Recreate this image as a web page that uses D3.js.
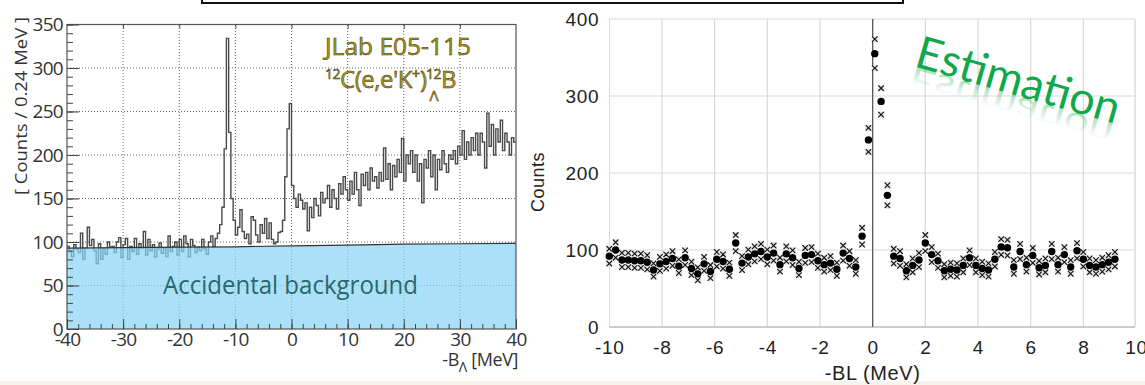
<!DOCTYPE html>
<html>
<head>
<meta charset="utf-8">
<script src="https://cdn.jsdelivr.net/npm/d3@7"></script>
<style>
  body { margin: 0; background: #ffffff; }
  svg { display: block; }
</style>
</head>
<body>
<script>
// left panel: E05-115 spectrum, 0.4 MeV bins starting at -40 MeV
var HIST_START = -40;
var BIN_W = 0.4;
var histCounts = [
  95, 90, 83, 97, 92, 88, 110, 80, 93, 117,
  96, 103, 90, 75, 98, 80, 92, 86, 100, 94,
  95, 88, 100, 105, 82, 97, 104, 80, 95, 89,
  104, 86, 98, 93, 112, 85, 103, 90, 97, 83,
  92, 99, 87, 93, 83, 107, 89, 95, 100, 85,
  103, 89, 107, 98, 83, 103, 96, 88, 94, 90,
  103, 92, 86, 100, 107, 95, 104, 110, 120, 140,
  207, 334, 226, 150, 125, 108, 117, 137, 112, 104,
  109, 98, 129, 125, 108, 100, 120, 110, 127, 104,
  122, 103, 98, 100, 111, 112, 125, 175, 230, 259,
  165, 150, 140, 155, 148, 138, 145, 113, 140, 128,
  150, 142, 130, 157, 145, 150, 165, 140, 160, 150,
  138, 167, 155, 175, 160, 148, 170, 155, 180, 160,
  142, 178, 165, 180, 160, 185, 170, 175, 162, 180,
  170, 208, 172, 190, 160, 188, 175, 195, 180, 219,
  170, 200, 190, 205, 180, 200, 170, 190, 145, 195,
  185, 205, 175, 200, 160, 195, 183, 205, 190, 180,
  200, 195, 205, 190, 210, 200, 228, 195, 215, 200,
  220, 205, 225, 200, 225, 215, 185, 248, 210, 235,
  200, 230, 215, 240, 205, 225, 215, 200, 220, 215
];
// accidental background level
var bgMeV = [-40, -30, -20, -10, 0, 10, 20, 30, 40];
var bgCounts = [93, 93.5, 94, 94.5, 95.5, 96.5, 97.5, 98, 98.5];
var leftXTicks = [-40, -30, -20, -10, 0, 10, 20, 30, 40];
var leftYTicks = [0, 50, 100, 150, 200, 250, 300, 350];

// right panel: estimation, 0.24 MeV steps from -10 MeV
var EST_START = -10;
var EST_STEP = 0.24;
var estCounts = [
  92, 100, 87, 87, 86, 86, 84, 74, 82, 85,
  89, 79, 90, 76, 69, 82, 72, 88, 85, 75,
  109, 83, 91, 95, 98, 91, 96, 81, 95, 90,
  76, 93, 94, 86, 81, 83, 75, 96, 89, 78,
  118, 243, 355, 293, 171, 92, 89, 73, 80, 87,
  109, 94, 86, 73, 75, 74, 80, 90, 80, 76,
  74, 88, 104, 103, 78, 98, 81, 93, 77, 80,
  98, 81, 94, 78, 99, 88, 80, 78, 81, 84,
  88
];
var rightXTicks = [-10, -8, -6, -4, -2, 0, 2, 4, 6, 8, 10];
var rightYTicks = [0, 100, 200, 300, 400];

var LFONT = '"Open Sans", "DejaVu Sans", sans-serif';
var RFONT = '"Liberation Sans", Arial, sans-serif';

var svg = d3.select('body').append('svg')
    .attr('width', 1145)
    .attr('height', 385);

var defs = svg.append('defs');
defs.append('clipPath').attr('id', 'clipL')
  .append('rect').attr('x', 67).attr('y', 24).attr('width', 449).attr('height', 305);
defs.append('clipPath').attr('id', 'clipR')
  .append('rect').attr('x', 609).attr('y', 0).attr('width', 527).attr('height', 330);
var fade = defs.append('linearGradient').attr('id', 'fade')
    .attr('x1', 0).attr('y1', 0).attr('x2', 0).attr('y2', 1);
fade.append('stop').attr('offset', 0.4).attr('stop-color', '#10a84a').attr('stop-opacity', 0);
fade.append('stop').attr('offset', 1).attr('stop-color', '#10a84a').attr('stop-opacity', 0.5);

// faint beige strip at the very bottom
svg.append('rect').attr('x', 0).attr('y', 381).attr('width', 1145).attr('height', 4)
    .style('fill', '#f8f4ec');

// box at the top (only its lower part is visible)
svg.append('rect')
    .attr('x', 202).attr('y', -20).attr('width', 701).attr('height', 23)
    .style('fill', 'none').style('stroke', '#111').style('stroke-width', 2);

drawLeft();
drawRight();

function drawLeft() {
    var x = d3.scaleLinear().domain([-40, 40]).range([67, 516]);
    var y = d3.scaleLinear().domain([0, 350]).range([329, 24.5]);
    var g = svg.append('g');

    // dotted grid
    g.selectAll('.gx').data(leftXTicks.slice(1, -1)).enter().append('line')
        .attr('x1', function (d) { return x(d); }).attr('x2', function (d) { return x(d); })
        .attr('y1', y(0)).attr('y2', y(350))
        .style('stroke', '#666').style('stroke-width', 1).style('stroke-dasharray', '1,2');
    g.selectAll('.gy').data(leftYTicks.slice(1, -1)).enter().append('line')
        .attr('x1', x(-40)).attr('x2', x(40))
        .attr('y1', function (d) { return y(d); }).attr('y2', function (d) { return y(d); })
        .style('stroke', '#666').style('stroke-width', 1).style('stroke-dasharray', '1,2');

    // histogram as a step line
    var steps = [];
    histCounts.forEach(function (c, i) {
        var x0 = HIST_START + i * BIN_W;
        steps.push([x0, c]);
        steps.push([x0 + BIN_W, c]);
    });
    var line = d3.line()
        .x(function (d) { return x(d[0]); })
        .y(function (d) { return y(d[1]); });
    g.append('path')
        .attr('d', line(steps))
        .attr('clip-path', 'url(#clipL)')
        .style('fill', 'none').style('stroke', '#4a4a4a').style('stroke-width', 1.4);

    // accidental background
    var bg = bgMeV.map(function (m, i) { return [m, bgCounts[i]]; });
    var area = d3.area()
        .x(function (d) { return x(d[0]); })
        .y0(y(0))
        .y1(function (d) { return y(d[1]); });
    g.append('path')
        .attr('d', area(bg))
        .style('fill', 'rgb(138,214,245)').style('opacity', 0.72);
    g.append('path')
        .attr('d', line(bg))
        .style('fill', 'none').style('stroke', '#333').style('stroke-width', 1.2);

    // frame
    g.append('rect')
        .attr('x', x(-40)).attr('y', y(350))
        .attr('width', x(40) - x(-40)).attr('height', y(0) - y(350))
        .style('fill', 'none').style('stroke', '#555').style('stroke-width', 1.2);

    // ticks and labels
    var yMinor = d3.range(0, 351, 10);
    g.append('g').attr('transform', 'translate(' + x(-40) + ',0)')
        .call(d3.axisLeft(y).tickValues(yMinor).tickSizeInner(-6).tickSizeOuter(0).tickFormat(''));
    var ya = g.append('g').attr('transform', 'translate(' + x(-40) + ',0)')
        .call(d3.axisLeft(y).tickValues(leftYTicks).tickSizeInner(-12).tickSizeOuter(0).tickPadding(4)
            .tickFormat(function (d) { return String(d); }));
    var xMinor = d3.range(-40, 41, 2);
    g.append('g').attr('transform', 'translate(0,' + y(0) + ')')
        .call(d3.axisBottom(x).tickValues(xMinor).tickSizeInner(-5).tickSizeOuter(0).tickFormat(''));
    var xa = g.append('g').attr('transform', 'translate(0,' + y(0) + ')')
        .call(d3.axisBottom(x).tickValues(leftXTicks).tickSizeInner(-10).tickSizeOuter(0).tickPadding(3)
            .tickFormat(function (d) { return String(d); }));
    g.append('g').attr('transform', 'translate(0,' + y(350) + ')')
        .call(d3.axisTop(x).tickValues(leftXTicks.slice(1, -1)).tickSizeInner(-4).tickSizeOuter(0).tickFormat(''));
    g.selectAll('.domain').remove();
    g.selectAll('.tick line').style('stroke', '#444');
    [ya, xa].forEach(function (a) {
        a.selectAll('text')
            .style('font-family', LFONT).style('font-size', '19px')
            .style('fill', '#333').style('letter-spacing', '-0.7px');
    });

    // axis titles
    g.append('text')
        .attr('transform', 'translate(27,106) rotate(-90)')
        .attr('text-anchor', 'middle')
        .attr('textLength', 178).attr('lengthAdjust', 'spacingAndGlyphs')
        .style('font-family', LFONT).style('font-size', '17px').style('fill', '#333')
        .text('[ Counts / 0.24 MeV ]');
    var xt = g.append('text')
        .attr('x', 518).attr('y', 366)
        .attr('text-anchor', 'end')
        .style('font-family', LFONT).style('font-size', '18px').style('fill', '#333')
        .style('letter-spacing', '-0.4px');
    xt.append('tspan').text('-B');
    xt.append('tspan').attr('dy', 6).style('font-size', '14px').text('Λ');
    xt.append('tspan').attr('dy', -6).text(' [MeV]');

    // labels in the plot
    g.append('text')
        .attr('x', 163).attr('y', 294)
        .attr('textLength', 255).attr('lengthAdjust', 'spacingAndGlyphs')
        .style('font-family', LFONT).style('font-size', '25px').style('fill', '#2c676d')
        .text('Accidental background');

    var gold = { fill: '#ad9a1c', stroke: '#3f3606' };
    g.append('text')
        .attr('x', 325).attr('y', 55)
        .attr('textLength', 146).attr('lengthAdjust', 'spacingAndGlyphs')
        .style('font-family', LFONT).style('font-size', '23px')
        .style('fill', gold.fill).style('stroke', gold.stroke).style('stroke-width', 0.5)
        .text('JLab E05-115');
    var rx = g.append('text')
        .attr('x', 325).attr('y', 88)
        .style('font-family', LFONT).style('font-size', '24px').style('letter-spacing', '-0.5px')
        .style('fill', gold.fill).style('stroke', gold.stroke).style('stroke-width', 0.5);
    rx.append('tspan').attr('dy', -9).style('font-size', '14px').text('12');
    rx.append('tspan').attr('dy', 9).text('C(e,e\'K');
    rx.append('tspan').attr('dy', -9).style('font-size', '15px').text('+');
    rx.append('tspan').attr('dy', 9).text(')');
    rx.append('tspan').attr('x', 426).attr('dy', -9).style('font-size', '14px').text('12');
    rx.append('tspan').attr('x', 441).attr('dy', 9).text('B');
    g.append('text')
        .attr('x', 434).attr('y', 101)
        .attr('text-anchor', 'middle')
        .style('font-family', LFONT).style('font-size', '15px')
        .style('fill', gold.fill).style('stroke', gold.stroke).style('stroke-width', 0.5)
        .text('Λ');
}

function drawRight() {
    var x = d3.scaleLinear().domain([-10, 10]).range([609.3, 1136]);
    var y = d3.scaleLinear().domain([0, 400]).range([327, 19]);
    var g = svg.append('g');

    // light grid
    g.selectAll('.gx').data(rightXTicks).enter().append('line')
        .attr('x1', function (d) { return x(d); }).attr('x2', function (d) { return x(d); })
        .attr('y1', y(0)).attr('y2', y(400))
        .attr('clip-path', 'url(#clipR)')
        .style('stroke', '#d9d9d9').style('stroke-width', 1.2);
    g.selectAll('.gy').data(rightYTicks.slice(1)).enter().append('line')
        .attr('x1', x(-10)).attr('x2', 1135)
        .attr('y1', function (d) { return y(d); }).attr('y2', function (d) { return y(d); })
        .style('stroke', '#d9d9d9').style('stroke-width', 1.2);
    g.append('line')
        .attr('x1', 1135).attr('x2', 1135).attr('y1', y(0)).attr('y2', y(400))
        .style('stroke', '#d9d9d9').style('stroke-width', 1.2);
    // x axis and zero line
    g.append('line')
        .attr('x1', x(-10)).attr('x2', 1135).attr('y1', y(0)).attr('y2', y(0))
        .style('stroke', '#9a9a9a').style('stroke-width', 1.2);
    g.append('line')
        .attr('x1', x(0)).attr('x2', x(0)).attr('y1', y(0)).attr('y2', y(400))
        .style('stroke', '#5a5a5a').style('stroke-width', 1.3);

    var pts = estCounts.map(function (c, i) { return { e: EST_START + i * EST_STEP, c: c }; });
    var cross = d3.symbol().type(d3.symbolTimes).size(22);
    var errs = [];
    pts.forEach(function (p) {
        errs.push({ e: p.e, c: p.c + Math.sqrt(p.c) });
        errs.push({ e: p.e, c: p.c - Math.sqrt(p.c) });
    });
    var eg = g.selectAll('.err').data(errs).enter().append('g')
        .attr('transform', function (d) { return 'translate(' + x(d.e) + ',' + y(d.c) + ')'; });
    eg.append('circle').attr('r', 3.3).style('fill', '#e4e4e4');
    eg.append('path').attr('d', cross)
        .style('fill', 'none').style('stroke', '#111').style('stroke-width', 1.1);
    g.selectAll('.pt').data(pts).enter().append('circle')
        .attr('cx', function (d) { return x(d.e); })
        .attr('cy', function (d) { return y(d.c); })
        .attr('r', 3.7)
        .style('fill', '#000');

    // tick labels
    var ya = g.append('g').attr('transform', 'translate(' + x(-10) + ',0)')
        .call(d3.axisLeft(y).tickValues(rightYTicks).tickSize(0).tickPadding(10)
            .tickFormat(function (d) { return String(d); }));
    var xa = g.append('g').attr('transform', 'translate(0,' + y(0) + ')')
        .call(d3.axisBottom(x).tickValues(rightXTicks).tickSize(0).tickPadding(14)
            .tickFormat(function (d) { return String(d); }));
    g.selectAll('.domain').remove();
    [ya, xa].forEach(function (a) {
        a.selectAll('text')
            .style('font-family', RFONT).style('font-size', '19px')
            .style('fill', '#222').style('letter-spacing', '0.7px');
    });

    g.append('text')
        .attr('transform', 'translate(544,182) rotate(-90)')
        .attr('text-anchor', 'middle')
        .style('font-family', RFONT).style('font-size', '18px').style('fill', '#222')
        .style('letter-spacing', '0.5px')
        .text('Counts');
    g.append('text')
        .attr('x', x(0)).attr('y', 380)
        .attr('text-anchor', 'middle')
        .style('font-family', RFONT).style('font-size', '20px').style('fill', '#222')
        .style('letter-spacing', '0.6px')
        .text('-BL (MeV)');

    // "Estimation" with its fading reflection
    var eg2 = g.append('g').attr('transform', 'translate(913,66) rotate(16)');
    eg2.append('text')
        .attr('transform', 'scale(1,-0.8)')
        .style('font-family', 'Lato, "Open Sans", sans-serif').style('font-size', '45px')
        .style('fill', 'url(#fade)')
        .text('Estimation');
    eg2.append('text')
        .style('font-family', 'Lato, "Open Sans", sans-serif').style('font-size', '45px')
        .style('fill', '#10a84a')
        .text('Estimation');
}
</script>
</body>
</html>
